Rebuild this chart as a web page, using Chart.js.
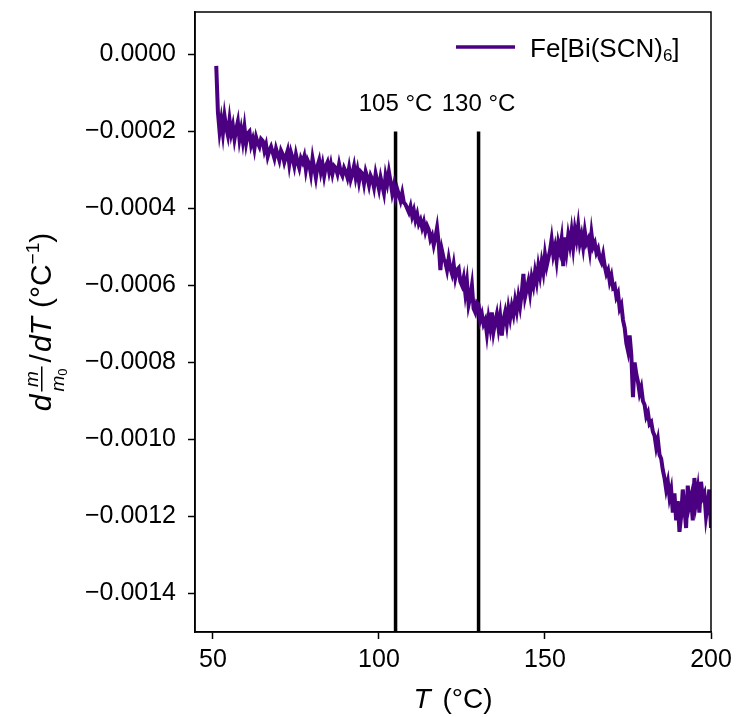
<!DOCTYPE html>
<html>
<head>
<meta charset="utf-8">
<script src="https://cdn.jsdelivr.net/npm/chart.js@4.4.1/dist/chart.umd.min.js"></script>
<style>
  html, body { margin: 0; padding: 0; background: #ffffff; }
</style>
</head>
<body>
<canvas id="dtgChart" width="738" height="717"></canvas>
<script>
// temperature grid of the measurement (°C)
const tStart = 51;
const tStep = 0.5;

// d(m/m0)/dT, in units of 1e-4 per °C
const dmdT_e4 = [
  -0.3, -1.5, -2.0, -1.7, -2.05, -1.6, -1.9, -2.1, -1.7, -2.05,
  -1.85, -2.2, -1.95, -1.75, -2.2, -1.95, -2.25, -1.9, -2.3, -2.05,
  -2.0, -2.35, -2.2, -2.45, -2.15, -2.3, -2.4, -2.2, -2.25, -2.5,
  -2.35, -2.65, -2.5, -2.4, -2.55, -2.7, -2.45, -2.6, -2.75, -2.5,
  -2.6, -2.8, -2.65, -2.5, -2.85, -2.55, -2.7, -2.9, -2.6, -2.8,
  -2.95, -2.7, -2.8, -2.65, -3.0, -2.75, -2.85, -3.1, -2.7, -2.95,
  -3.2, -2.9, -2.75, -3.05, -2.85, -3.15, -2.9, -2.8, -3.05, -2.85,
  -3.1, -2.9, -2.95, -3.1, -2.85, -3.05, -3.15, -2.95, -3.05, -3.2,
  -2.95, -3.25, -3.1, -2.9, -3.2, -3.0, -3.3, -3.05, -3.1, -3.35,
  -3.05, -3.2, -3.4, -3.15, -3.25, -3.45, -3.1, -3.3, -3.5, -3.2,
  -3.4, -3.6, -3.15, -3.35, -3.05, -3.3, -3.6, -3.4, -3.7, -3.5,
  -3.65, -3.8, -3.6, -3.85, -3.9, -4.0, -4.1, -3.95, -4.2, -4.05,
  -4.3, -4.15, -4.4, -4.3, -4.5, -4.35, -4.6, -4.45, -4.55, -4.8,
  -4.7, -4.95, -4.75, -4.5, -4.9, -5.6, -5.1, -5.3, -5.4, -5.6,
  -5.3, -5.55, -5.7, -5.45, -5.8, -5.6, -5.55, -5.9, -6.0, -5.8,
  -6.2, -5.9, -6.5, -6.3, -6.0, -6.6, -6.7, -6.45, -6.5, -6.9,
  -6.75, -7.0, -6.9, -7.25, -6.85, -7.1, -6.7, -7.2, -6.95, -6.75,
  -7.1, -6.8, -7.3, -6.9, -6.7, -7.0, -6.6, -6.85, -6.55, -6.75,
  -6.4, -6.65, -6.3, -6.55, -6.2, -5.7, -6.3, -6.1, -5.9, -6.2,
  -5.8, -6.0, -5.65, -5.9, -5.5, -5.75, -5.4, -5.65, -5.2, -5.5,
  -5.3, -5.1, -4.8, -5.2, -5.0, -5.35, -4.9, -5.1, -4.8, -5.5,
  -4.75, -5.1, -4.7, -4.95, -4.6, -5.0, -4.55, -4.8, -4.45, -4.9,
  -4.7, -5.0, -4.6, -4.9, -4.8, -5.1, -4.65, -5.0, -4.9, -5.15,
  -5.05, -5.3, -5.4, -5.2, -5.5, -5.7, -5.6, -5.9, -5.75, -6.05,
  -6.0, -6.3, -6.2, -6.6, -6.5, -6.9, -7.1, -7.5, -7.7, -7.3,
  -7.8, -8.9, -8.0, -8.3, -8.5, -8.8, -8.65, -9.0, -9.1, -9.4,
  -9.3, -9.6, -9.55, -9.8, -9.9, -10.2, -10.0, -10.4, -10.5, -10.8,
  -11.0, -11.3, -11.1, -11.5, -11.3, -11.9, -11.4, -12.1, -11.6, -12.4,
  -12.0, -11.3, -11.8, -12.3, -11.2, -11.7, -11.5, -12.1, -11.0, -11.6,
  -11.3, -11.9, -11.1, -11.5, -11.4, -12.0, -11.7, -11.3, -12.3
];

// vertical markers (°C) and where they start (top end)
const markerTemps = [105, 130];
const markerLabels = ["105 °C", "130 °C"];
const markerTop = -0.0002;

const xTicks = [50, 100, 150, 200];
const yTicks = [0, -0.0002, -0.0004, -0.0006, -0.0008, -0.0010, -0.0012, -0.0014];

const xMin = 44.6;
const xMax = 200;
const yMin = -0.0015;
const yMax = 0.00011;

const lineColor = "#4b0082";
const fontFamily = "'Liberation Sans', Arial, sans-serif";

const curvePoints = dmdT_e4.map((v, i) => ({
  x: tStart + i * tStep,
  y: v * 1e-4
}));

const markerSets = markerTemps.map(t => ({
  label: t + " marker",
  data: [{ x: t, y: markerTop }, { x: t, y: yMin }],
  borderColor: "#000000",
  borderWidth: 3.5,
  pointRadius: 0,
  order: 1
}));

// draws a list of text runs, returns total width
function runs(ctx, list, x, y, draw) {
  let cx = x;
  for (const r of list) {
    ctx.font = r.font;
    if (draw) ctx.fillText(r.text, cx, y + (r.dy || 0));
    cx += ctx.measureText(r.text).width + (r.gap || 0);
  }
  return cx - x;
}

const textPlugin = {
  id: "textPlugin",
  afterDraw(chart) {
    const ctx = chart.ctx;
    const area = chart.chartArea;
    const xs = chart.scales.x;
    ctx.save();
    ctx.fillStyle = "#000000";
    ctx.textBaseline = "alphabetic";
    ctx.textAlign = "left";

    // frame (top and right spines)
    ctx.strokeStyle = "#000000";
    ctx.lineWidth = 1.5;
    ctx.strokeRect(area.left, area.top, area.right - area.left, area.bottom - area.top);

    // marker labels
    ctx.font = "24px " + fontFamily;
    ctx.textAlign = "center";
    markerTemps.forEach((t, i) => {
      ctx.fillText(markerLabels[i], xs.getPixelForValue(t), 111);
    });
    ctx.textAlign = "left";

    // legend
    ctx.strokeStyle = lineColor;
    ctx.lineWidth = 3.5;
    ctx.beginPath();
    ctx.moveTo(456, 47);
    ctx.lineTo(515, 47);
    ctx.stroke();
    runs(ctx, [
      { text: "Fe[Bi(SCN)", font: "26px " + fontFamily },
      { text: "6", font: "17px " + fontFamily, dy: 4 },
      { text: "]", font: "26px " + fontFamily }
    ], 530, 57, true);

    // x axis title
    const xt = [
      { text: "T", font: "italic 28px " + fontFamily, gap: 12 },
      { text: "(°C)", font: "28px " + fontFamily }
    ];
    const xw = runs(ctx, xt, 0, 0, false);
    runs(ctx, xt, (area.left + area.right) / 2 - xw / 2, 708, true);

    // y axis title with the small m/m0 fraction
    ctx.translate(51, (area.top + area.bottom) / 2);
    ctx.rotate(-Math.PI / 2);
    const big = "30px " + fontFamily;
    const bigIt = "italic 30px " + fontFamily;
    const small = "italic 19px " + fontFamily;
    ctx.font = small;
    const mW = ctx.measureText("m").width;
    ctx.font = "13px " + fontFamily;
    const zW = ctx.measureText("0").width;
    const fracW = mW + zW + 2;
    const head = [{ text: "d", font: bigIt, gap: 3 }];
    const tail = [
      { text: "/", font: big, gap: 2 },
      { text: "dT", font: bigIt, gap: 9 },
      { text: "(°C", font: big },
      { text: "\u22121", font: "19px " + fontFamily, dy: -12 },
      { text: ")", font: big }
    ];
    const total = runs(ctx, head, 0, 0, false) + fracW + 4 + runs(ctx, tail, 0, 0, false);
    let px = -total / 2;
    px += runs(ctx, head, px, 0, true);
    ctx.font = small;
    ctx.fillText("m", px + (fracW - mW) / 2, -13);
    ctx.fillText("m", px, 13);
    ctx.font = "13px " + fontFamily;
    ctx.fillText("0", px + mW, 16);
    ctx.fillRect(px, -10, fracW, 1.5);
    px += fracW + 4;
    runs(ctx, tail, px, 0, true);
    ctx.restore();
  }
};

new Chart(document.getElementById("dtgChart"), {
  type: "line",
  data: {
    datasets: [
      {
        label: "Fe[Bi(SCN)6]",
        data: curvePoints,
        borderColor: lineColor,
        borderWidth: 4,
        pointRadius: 0,
        tension: 0,
        order: 0
      },
      ...markerSets
    ]
  },
  options: {
    responsive: false,
    animation: false,
    devicePixelRatio: 1,
    layout: { padding: { left: 0, top: 12, right: 27, bottom: 0 } },
    plugins: {
      legend: { display: false },
      tooltip: { enabled: false }
    },
    scales: {
      x: {
        type: "linear",
        min: xMin,
        max: xMax,
        afterBuildTicks: axis => { axis.ticks = xTicks.map(v => ({ value: v })); },
        afterFit: axis => {
          axis.height = 85;
          axis.paddingLeft = 0;
          axis.paddingRight = 0;
        },
        grid: {
          display: true,
          drawOnChartArea: false,
          drawTicks: true,
          tickLength: 7,
          tickColor: "#000000",
          tickWidth: 1.5
        },
        border: { display: true, color: "#000000", width: 1.5 },
        ticks: {
          color: "#000000",
          padding: 6,
          maxRotation: 0,
          font: { family: fontFamily, size: 25 },
          callback: v => String(v)
        }
      },
      y: {
        type: "linear",
        min: yMin,
        max: yMax,
        afterBuildTicks: axis => { axis.ticks = yTicks.map(v => ({ value: v })); },
        afterFit: axis => {
          axis.width = 195;
          axis.paddingTop = 0;
          axis.paddingBottom = 0;
        },
        grid: {
          display: true,
          drawOnChartArea: false,
          drawTicks: true,
          tickLength: 7,
          tickColor: "#000000",
          tickWidth: 1.5
        },
        border: { display: true, color: "#000000", width: 1.5 },
        ticks: {
          color: "#000000",
          padding: 12,
          font: { family: fontFamily, size: 25 },
          callback: v => v === 0 ? "0.0000" : "\u2212" + Math.abs(v).toFixed(4)
        }
      }
    }
  },
  plugins: [textPlugin]
});
</script>
</body>
</html>
